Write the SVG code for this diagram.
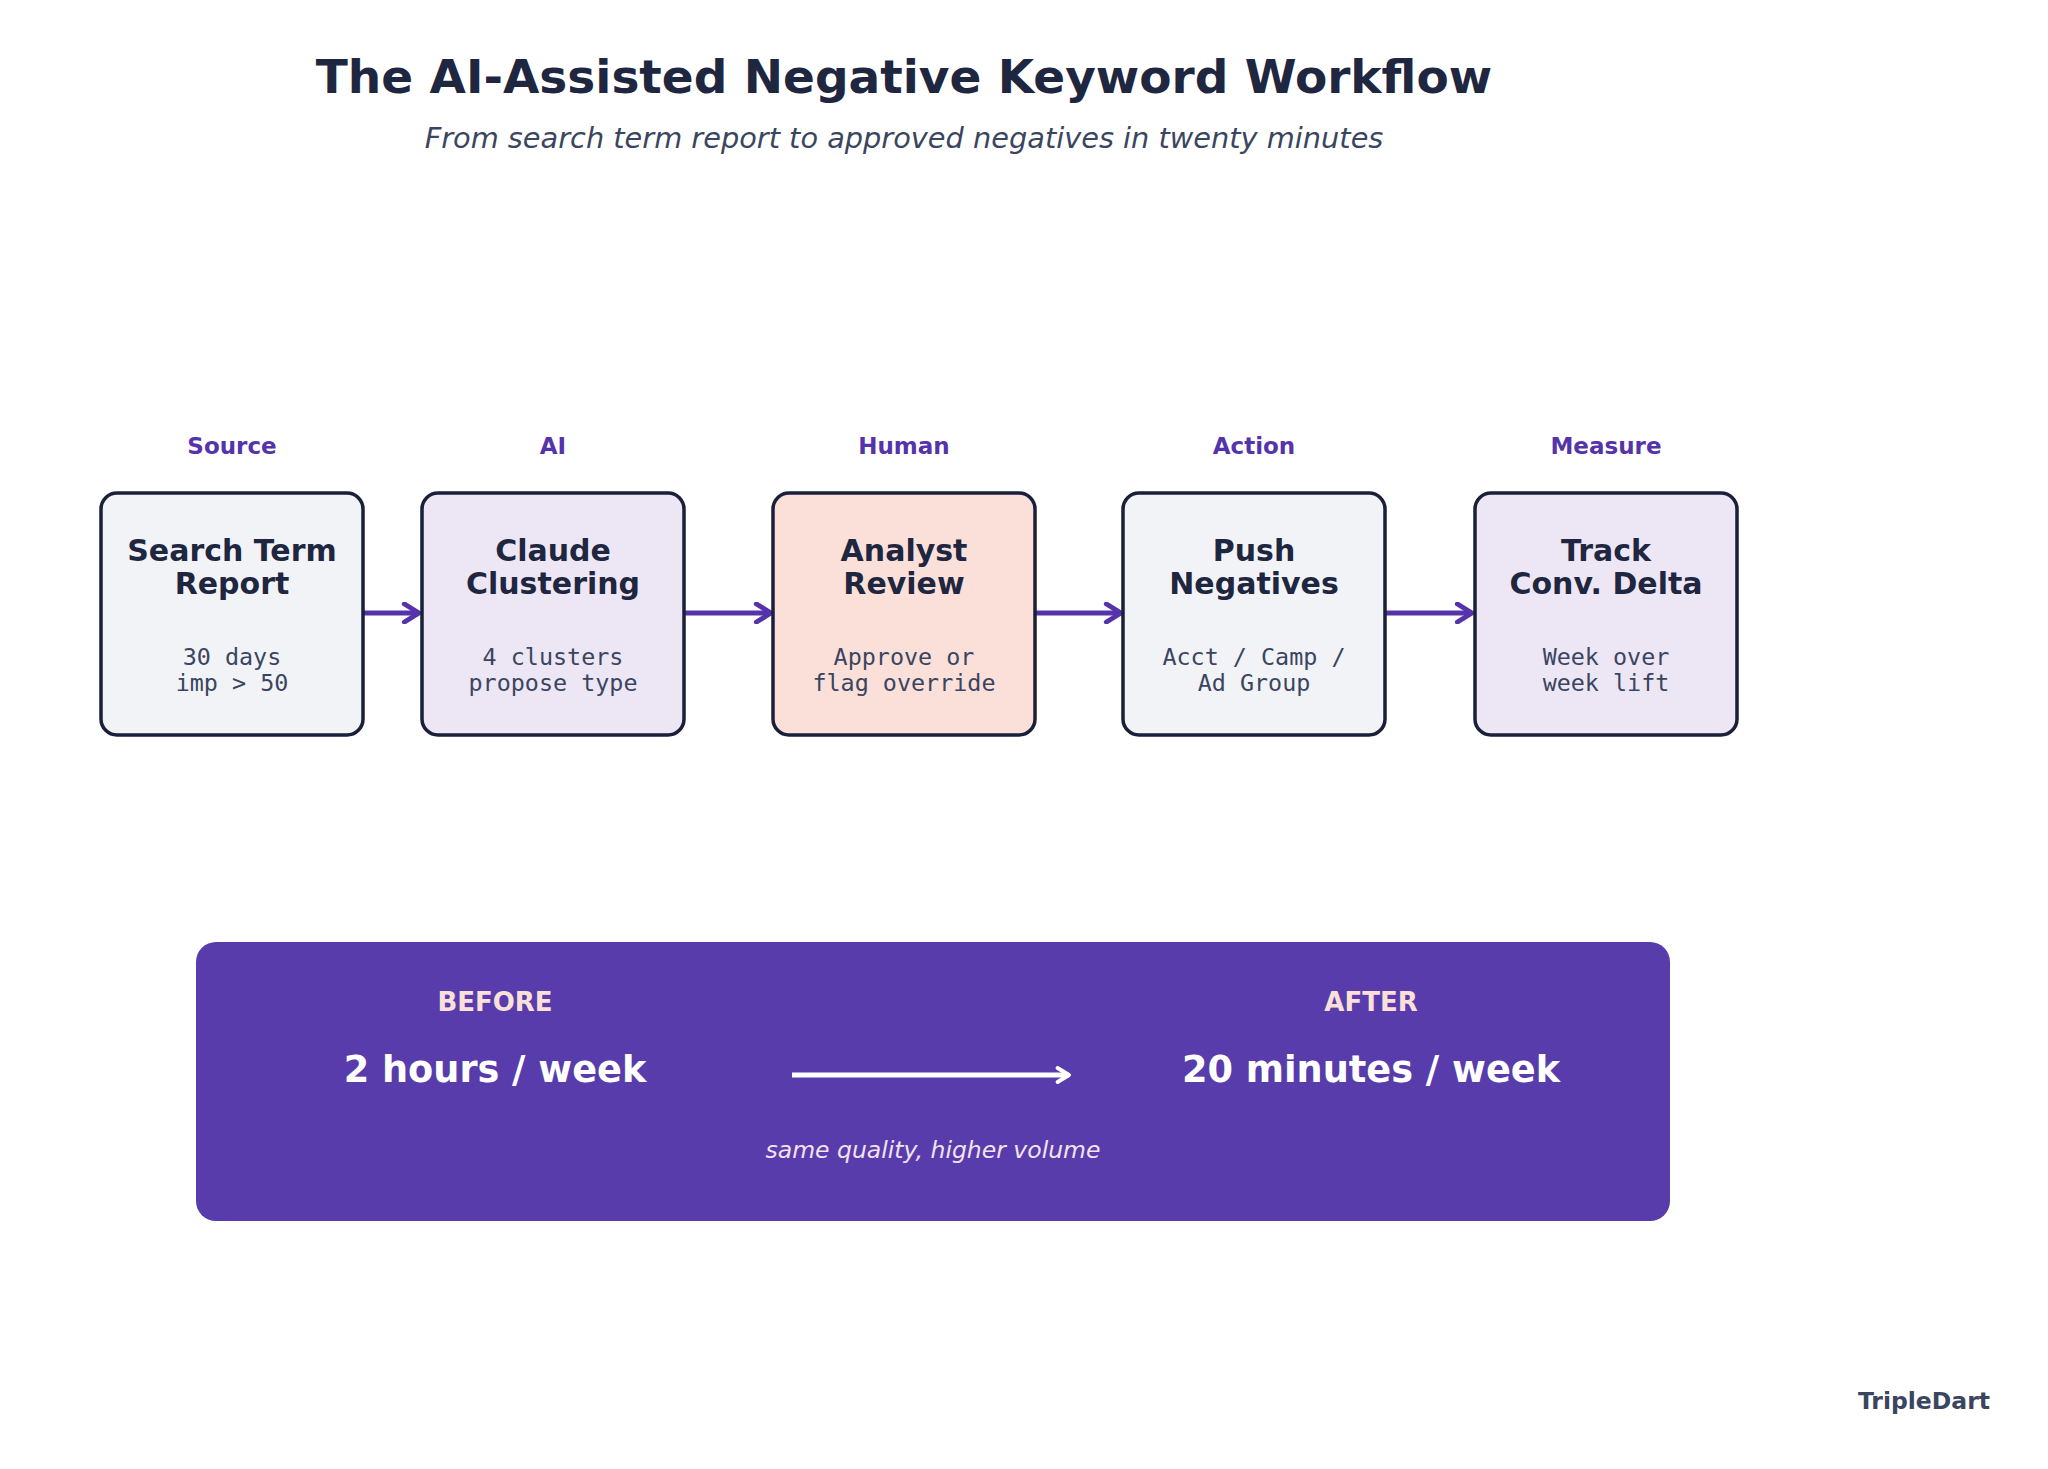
<svg xmlns="http://www.w3.org/2000/svg" width="2048" height="1469" viewBox="0 0 2048 1469">
<defs>
<style>
.title{font-family:"DejaVu Sans",sans-serif;font-weight:bold;font-size:47px;fill:#1e2640;text-anchor:middle}
.sub{font-family:"DejaVu Sans",sans-serif;font-style:italic;font-size:28.8px;fill:#3a4560;text-anchor:middle}
.stage{font-family:"DejaVu Sans",sans-serif;font-weight:bold;font-size:23px;fill:#5533aa;text-anchor:middle}
.box{stroke:#1a1f3a;stroke-width:3.5}
.bt{font-family:"DejaVu Sans",sans-serif;font-weight:bold;font-size:30px;fill:#1e2640;text-anchor:middle}
.bm{font-family:"DejaVu Sans Mono",monospace;font-size:23.4px;fill:#3a4560;text-anchor:middle}
.conn{stroke:#5533aa;stroke-width:5;fill:none}
.lab{font-family:"DejaVu Sans",sans-serif;font-weight:bold;font-size:26px;fill:#fbe0da;text-anchor:middle}
.big{font-family:"DejaVu Sans",sans-serif;font-weight:bold;font-size:36.7px;fill:#ffffff;text-anchor:middle}
.note{font-family:"DejaVu Sans",sans-serif;font-style:italic;font-size:23.5px;fill:#f3e3ee;text-anchor:middle}
</style>
<marker id="ah" viewBox="0 0 10 10" refX="8" refY="5" markerWidth="4.5" markerHeight="4.5" orient="auto" markerUnits="strokeWidth">
<path d="M1.5,1 L8,5 L1.5,9" fill="none" stroke="#5533aa" stroke-width="2.2" stroke-linecap="round" stroke-linejoin="round"/>
</marker>
<marker id="ahw" viewBox="0 0 10 10" refX="8" refY="5" markerWidth="3.5" markerHeight="3.5" orient="auto" markerUnits="strokeWidth">
<path d="M1.5,1 L8,5 L1.5,9" fill="none" stroke="#ffffff" stroke-width="2.2" stroke-linecap="round" stroke-linejoin="round"/>
</marker>
</defs>
<rect width="2048" height="1469" fill="#ffffff"/>
<text class="title" x="904" y="93">The AI-Assisted Negative Keyword Workflow</text>
<text class="sub" x="904" y="148">From search term report to approved negatives in twenty minutes</text>

<g id="connectors">
<path class="conn" d="M362,613 L419,613" marker-end="url(#ah)"/>
<path class="conn" d="M683,613 L771,613" marker-end="url(#ah)"/>
<path class="conn" d="M1034,613 L1121,613" marker-end="url(#ah)"/>
<path class="conn" d="M1384,613 L1472,613" marker-end="url(#ah)"/>
</g>

<g id="node-source">
<text class="stage" x="232" y="454">Source</text>
<rect class="box" x="101" y="493" width="262" height="242" rx="16" fill="#f2f3f7"/>
<text class="bt" x="232" y="561">Search Term</text>
<text class="bt" x="232" y="594">Report</text>
<text class="bm" x="232" y="665">30 days</text>
<text class="bm" x="232" y="691">imp &gt; 50</text>
</g>

<g id="node-ai">
<text class="stage" x="553" y="454">AI</text>
<rect class="box" x="422" y="493" width="262" height="242" rx="16" fill="#ede7f5"/>
<text class="bt" x="553" y="561">Claude</text>
<text class="bt" x="553" y="594">Clustering</text>
<text class="bm" x="553" y="665">4 clusters</text>
<text class="bm" x="553" y="691">propose type</text>
</g>

<g id="node-human">
<text class="stage" x="904" y="454">Human</text>
<rect class="box" x="773" y="493" width="262" height="242" rx="16" fill="#fbe0da"/>
<text class="bt" x="904" y="561">Analyst</text>
<text class="bt" x="904" y="594">Review</text>
<text class="bm" x="904" y="665">Approve or</text>
<text class="bm" x="904" y="691">flag override</text>
</g>

<g id="node-action">
<text class="stage" x="1254" y="454">Action</text>
<rect class="box" x="1123" y="493" width="262" height="242" rx="16" fill="#f2f3f7"/>
<text class="bt" x="1254" y="561">Push</text>
<text class="bt" x="1254" y="594">Negatives</text>
<text class="bm" x="1254" y="665">Acct / Camp /</text>
<text class="bm" x="1254" y="691">Ad Group</text>
</g>

<g id="node-measure">
<text class="stage" x="1606" y="454">Measure</text>
<rect class="box" x="1475" y="493" width="262" height="242" rx="16" fill="#ede7f5"/>
<text class="bt" x="1606" y="561">Track</text>
<text class="bt" x="1606" y="594">Conv. Delta</text>
<text class="bm" x="1606" y="665">Week over</text>
<text class="bm" x="1606" y="691">week lift</text>
</g>

<g id="panel">
<rect x="196" y="942" width="1474" height="279" rx="20" fill="#583cac"/>
<text class="lab" x="495" y="1011">BEFORE</text>
<text class="big" x="495" y="1082">2 hours / week</text>
<path d="M792,1075 L1069,1075" stroke="#ffffff" stroke-width="5" fill="none" marker-end="url(#ahw)"/>
<text class="lab" x="1371" y="1011">AFTER</text>
<text class="big" x="1371" y="1082">20 minutes / week</text>
<text class="note" x="933" y="1158">same quality, higher volume</text>
</g>

<text x="1990" y="1409" font-family="DejaVu Sans, sans-serif" font-weight="bold" font-size="23.5" fill="#3a4560" text-anchor="end">TripleDart</text>
</svg>
